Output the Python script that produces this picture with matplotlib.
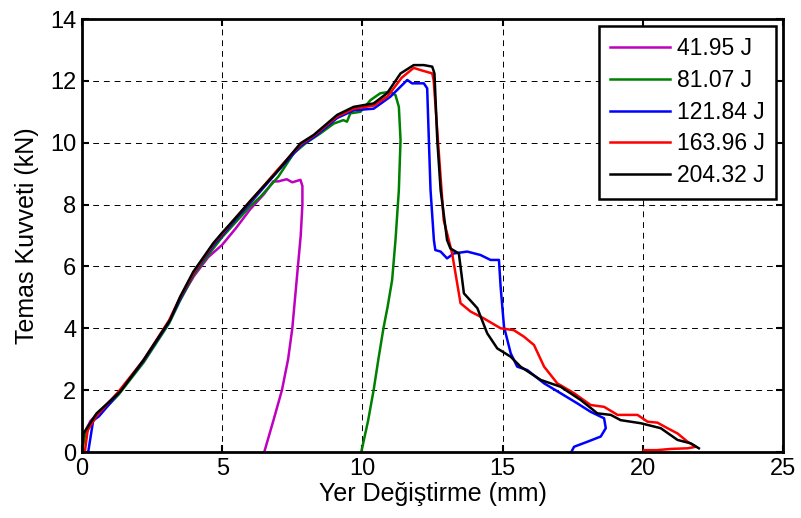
import matplotlib.pyplot as plt

plt.rcParams['font.family'] = ['Liberation Sans', 'DejaVu Sans']

labels = ['41.95 J', '81.07 J', '121.84 J', '163.96 J', '204.32 J']
colors = ['#bf00bf', '#008000', '#0000ff', '#ff0000', '#000000']

# 41.95 J
x1 = [0, 0.05, 0.3, 0.5, 1.3, 2.2, 3.1, 3.5, 4.0, 4.5, 5.0, 5.5, 6.0, 6.5, 6.82,
      7.0, 7.3, 7.5, 7.79, 7.86, 7.86, 7.8, 7.7, 7.5, 7.35, 7.13, 6.82, 6.5]
y1 = [0, 0.55, 1.0, 1.2, 1.9, 2.95, 4.2, 4.95, 5.7, 6.3, 6.7, 7.25, 7.85, 8.35, 8.75,
      8.75, 8.82, 8.72, 8.8, 8.6, 8.0, 7.0, 6.0, 4.0, 3.0, 2.0, 1.0, 0]

# 81.07 J
x2 = [0, 0.1, 0.3, 0.5, 1.3, 2.2, 3.1, 3.5, 4.0, 4.7, 5.0, 5.5, 6.0, 6.36, 7.0, 7.55,
      8.0, 8.5, 8.98, 9.32, 9.45, 9.57, 9.93, 10.29, 10.64, 11.0, 11.18, 11.3, 11.36,
      11.3, 11.18, 11.06, 10.9, 10.75, 10.57, 10.4, 10.2, 9.96]
y2 = [0, 0.5, 0.9, 1.1, 1.85, 2.9, 4.15, 4.9, 5.75, 6.6, 6.95, 7.45, 7.95, 8.25, 8.9, 9.66,
      10.0, 10.3, 10.62, 10.73, 10.68, 10.95, 11.0, 11.38, 11.6, 11.65, 11.54, 11.16, 10.09,
      8.47, 6.85, 5.56, 4.7, 4.0, 3.0, 2.0, 1.0, 0]

# 121.84 J
x3 = [0.22, 0.4, 0.6, 1.3, 2.2, 3.1, 3.5, 4.0, 4.7, 5.0, 5.5, 6.0, 7.0, 7.8, 8.3, 9.1,
      9.7, 10.4, 11.0, 11.48, 11.6, 11.77, 12.19, 12.31, 12.37, 12.43, 12.55, 12.6, 12.79,
      13.02, 13.26, 13.74, 14.21, 14.57, 14.87, 14.93, 15.05, 15.29, 15.52, 15.88, 16.48,
      17.07, 17.67, 18.14, 18.62, 18.68, 18.5, 18.02, 17.55, 17.45]
y3 = [0, 1.03, 1.15, 1.9, 2.95, 4.2, 4.95, 5.8, 6.7, 7.0, 7.55, 8.05, 9.1, 9.9, 10.2, 10.8,
      11.05, 11.1, 11.49, 11.92, 12.03, 11.92, 11.92, 11.76, 10.09, 8.47, 6.85, 6.53, 6.48,
      6.26, 6.42, 6.48, 6.37, 6.21, 6.21, 5.34, 4.05, 3.19, 2.76, 2.65, 2.22,
      1.9, 1.57, 1.3, 1.09, 0.77, 0.5, 0.33, 0.17, 0]

# 163.96 J
x4 = [0.1, 0.2, 0.5, 1.3, 2.2, 3.1, 3.5, 4.0, 4.7, 5.0, 5.5, 6.0, 7.0, 7.8, 8.3, 9.1,
      9.7, 10.4, 10.9, 11.4, 11.83, 12.07, 12.49, 12.54, 12.7, 12.9, 13.2, 13.5, 13.86,
      14.33, 14.93, 15.4, 15.76, 16.12, 16.48, 16.95, 17.55, 18.14, 18.62, 19.1, 19.81,
      20.17, 20.52, 20.88, 21.24, 21.6, 21.9, 21.6, 21.0, 20.5, 20.05, 20.0]
y4 = [0, 0.7, 1.15, 1.95, 2.98, 4.25, 5.0, 5.82, 6.75, 7.05, 7.6, 8.1, 9.15, 9.95, 10.25, 10.85,
      11.1, 11.2, 11.5, 12.1, 12.42, 12.35, 12.24, 12.03, 10.0, 7.5, 6.42, 4.81, 4.54,
      4.32, 4.0, 3.94, 3.73, 3.46, 2.76, 2.22, 1.9, 1.52, 1.46, 1.2, 1.2,
      0.98, 0.95, 0.77, 0.6, 0.33, 0.17, 0.12, 0.1, 0.06, 0.06, 0]

# 204.32 J
x5 = [0, 0.05, 0.52, 1.36, 2.19, 3.14, 3.5, 3.97, 4.68, 4.99, 5.52, 6.0, 6.95, 7.79,
      8.26, 9.1, 9.69, 10.4, 10.88, 11.36, 11.83, 12.19, 12.49, 12.57, 12.67, 12.79,
      13.02, 13.14, 13.44, 13.62, 14.1, 14.45, 14.81, 15.29, 15.64, 16.36, 17.07, 17.79,
      18.38, 18.86, 19.21, 19.93, 20.64, 21.24, 21.71, 22.0]
y5 = [0, 0.6, 1.25, 1.95, 2.97, 4.27, 5.02, 5.83, 6.75, 7.08, 7.61, 8.12, 9.06, 9.98,
      10.25, 10.9, 11.16, 11.27, 11.6, 12.24, 12.51, 12.51, 12.46, 12.24, 10.09, 8.47,
      6.85, 6.58, 6.42, 5.13, 4.65, 3.84, 3.35, 3.08, 2.76, 2.33, 2.11, 1.68,
      1.25, 1.2, 1.03, 0.93, 0.77, 0.39, 0.28, 0.12]

fig = plt.figure(figsize=(8.01, 5.18), dpi=100)
ax = fig.add_axes([0.1024, 0.1274, 0.8751, 0.8359])

for xs, ys, c, lab in zip([x1, x2, x3, x4, x5], [y1, y2, y3, y4, y5], colors, labels):
    ax.plot(xs, ys, color=c, lw=1.8, label=lab)

ax.set_xlim(0, 25)
ax.set_ylim(0, 14)
ax.set_xticks(range(0, 26, 5))
ax.set_yticks(range(0, 15, 2))
ax.grid(True, color='black', linestyle=(0, (6, 5)), linewidth=0.7)
ax.tick_params(direction='in', labelsize=17, width=1.5, length=5, top=True, right=True, pad=4)
for s in ax.spines.values():
    s.set_linewidth(2)

ax.set_xlabel('Yer Değiştirme (mm)', fontsize=18, labelpad=2)
ax.set_ylabel('Temas Kuvveti (kN)', fontsize=18, labelpad=8)

leg = ax.legend(loc='upper right', fontsize=16.5, fancybox=False, framealpha=1,
                edgecolor='black', handlelength=2.6, handletextpad=0.3,
                borderaxespad=0.3, labelspacing=0.38, borderpad=0.5)
leg.get_frame().set_linewidth(1.8)

fig.savefig('out.png', dpi=100)
